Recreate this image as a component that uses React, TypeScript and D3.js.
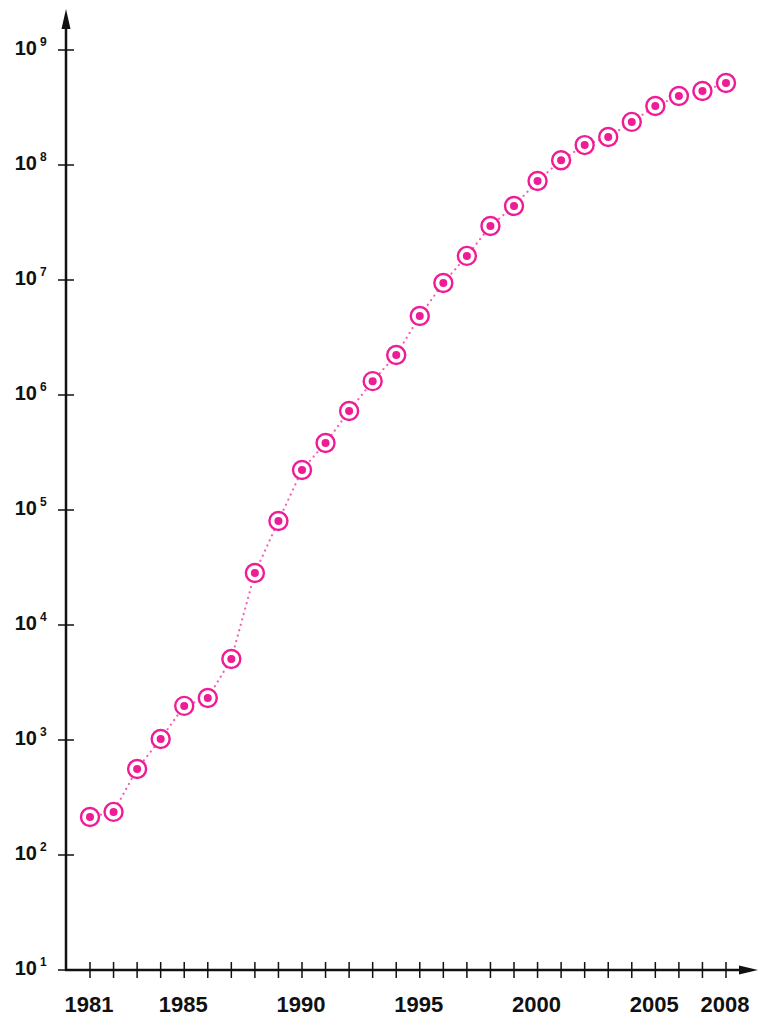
import React from "react";
import * as d3 from "d3";

const years: number[] = [1981,1982,1983,1984,1985,1986,1987,1988,1989,1990,1991,1992,1993,1994,1995,1996,1997,1998,1999,2000,2001,2002,2003,2004,2005,2006,2007,2008];
const hosts: number[] = [214,237,560,1020,1980,2320,5060,28300,80200,222800,382800,726000,1320000,2230000,4860000,9420000,16200000,29500000,44000000,72600000,110000000,149000000,175000000,237000000,326000000,398000000,440000000,516000000];
const xLabelYears: number[] = [1981,1985,1990,1995,2000,2005,2008];
const yExponents: number[] = [1,2,3,4,5,6,7,8,9];

const W = 758, H = 1017;
const PINK = "#ee1c96";

export default function App() {
  const x = d3.scaleLinear().domain([1981, 2008]).range([90, 726]);
  const y = d3.scaleLog().domain([10, 1e9]).range([970, 50]);
  const axisX = 66;
  const axisY = 970;
  const line = d3.line<number>().x((_, i) => x(years[i])).y((d) => y(d));

  return (
    <svg width={W} height={H} style={{ position: "absolute", left: 0, top: 0, background: "#fff" }}
      fontFamily="'Liberation Sans', Arial, sans-serif" fontWeight="bold">
      {/* dotted connecting line */}
      <path d={line(hosts) || ""} fill="none" stroke={PINK} strokeOpacity={0.7} strokeWidth={2.2}
        strokeDasharray="0.1 5.5" strokeLinecap="round" />
      {/* axes */}
      <line x1={axisX} y1={axisY + 1} x2={axisX} y2={26} stroke="#111" strokeWidth={2.5} />
      <path d={`M${axisX},9 L${axisX - 4.5},29 L${axisX + 4.5},29 Z`} fill="#111" />
      <line x1={axisX - 1} y1={axisY} x2={742} y2={axisY} stroke="#111" strokeWidth={2.5} />
      <path d={`M758,${axisY} L739,${axisY - 4.5} L739,${axisY + 4.5} Z`} fill="#111" />
      {/* y ticks */}
      {yExponents.map((e) => (
        <g key={"y" + e}>
          <line x1={58} x2={74} y1={y(Math.pow(10, e))} y2={y(Math.pow(10, e))} stroke="#111" strokeWidth={1.5} />
          <text x={37} y={y(Math.pow(10, e)) + 5} fontSize={20} textAnchor="end" fill="#111">10</text>
          <text x={40} y={y(Math.pow(10, e)) - 4} fontSize={12} textAnchor="start" fill="#111">{e}</text>
        </g>
      ))}
      {/* x ticks */}
      {years.map((yr) => (
        <line key={"t" + yr} x1={x(yr)} x2={x(yr)} y1={axisY - 8} y2={axisY + 8} stroke="#111" strokeWidth={1.5} />
      ))}
      {xLabelYears.map((yr) => (
        <text key={"l" + yr} x={x(yr) - 1} y={1012} fontSize={22} textAnchor="middle" fill="#111">{yr}</text>
      ))}
      {/* markers */}
      {hosts.map((v, i) => (
        <g key={"m" + i}>
          <circle cx={x(years[i])} cy={y(v)} r={9} fill="#fff" stroke={PINK} strokeWidth={2.4} />
          <circle cx={x(years[i])} cy={y(v)} r={4} fill={PINK} />
        </g>
      ))}
    </svg>
  );
}
